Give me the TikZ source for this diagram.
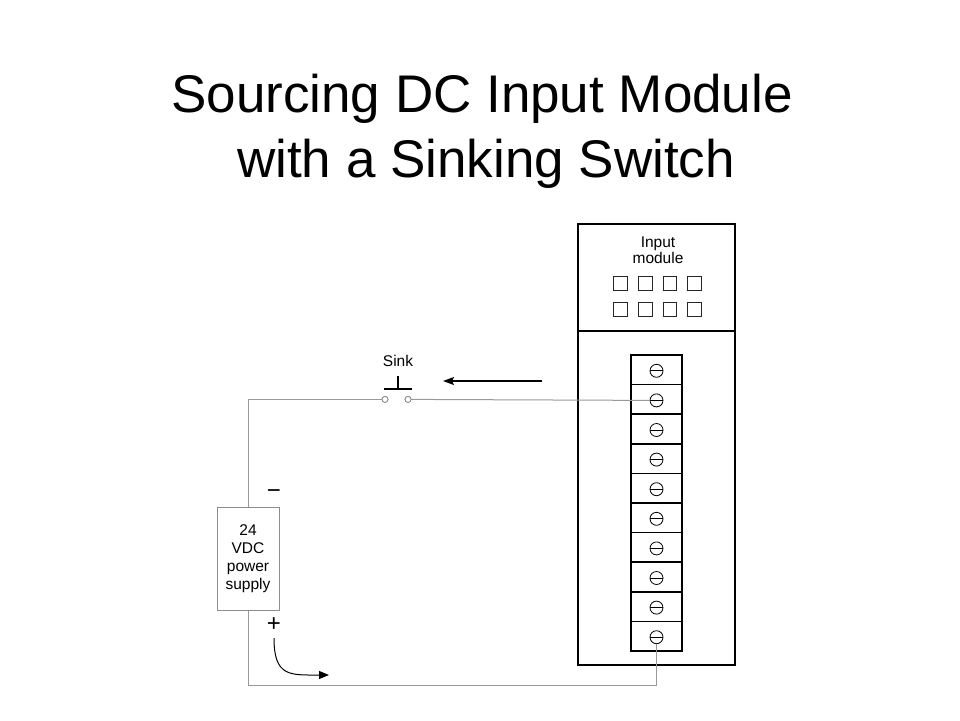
\documentclass[tikz,border=0pt]{standalone}
\usepackage{fontspec}
\setmainfont{Liberation Sans}
\usetikzlibrary{arrows.meta}
\begin{document}
\begin{tikzpicture}[x=1pt,y=-1pt,
  wire/.style={draw=black!40, line width=1pt},
  heavy/.style={draw=black, line width=1.8pt},
  titletext/.style={font=\fontsize{53}{65}\selectfont, inner sep=0pt, anchor=base},
  lbl/.style={font=\fontsize{15.5}{18.2}\selectfont, inner sep=0pt, align=center},
  led/.style={draw=black!85, line width=0.9pt, minimum size=13.5pt, inner sep=0pt, outer sep=0pt},
  term/.style={draw=black, line width=1.5pt, minimum width=51pt, minimum height=29.6pt, inner sep=0pt, outer sep=0pt},
  screw/.style={circle, draw=black, line width=0.8pt, minimum size=13pt, inner sep=0pt, outer sep=0pt},
  contact/.style={circle, draw=black!45, line width=0.8pt, fill=white, minimum size=6pt, inner sep=0pt, outer sep=0pt},
  sign/.style={font=\fontsize{24}{24}\selectfont, inner sep=0pt}]
\useasboundingbox (0,0) rectangle (960,720);

% title
\node[titletext] (title1) at (482,112) {Sourcing DC Input Module};
\node[titletext] (title2) at (486,177) {with a Sinking Switch};

% input module
\node[heavy, minimum width=157pt, minimum height=441pt, inner sep=0pt, outer sep=0pt, anchor=north west] (mod) at (578,224) {};
\draw[heavy] (mod.west |- 0,331) -- (mod.east |- 0,331);
\node[lbl, anchor=base] (in1) at (658,247) {Input};
\node[lbl, anchor=base] (in2) at (658,263.5) {module};
\foreach \c [count=\k] in {620.5,645.5,670,694.5}{
  \node[led] (la\k) at (\c,283.5) {};
  \node[led] (lb\k) at (\c,309.5) {};
}

% terminal strip
\foreach \i in {1,...,10}{
  \node[term] (t\i) at (656.5,{355+29.6*(\i-0.5)}) {};
  \node[screw] (s\i) at (656.5,{355+29.6*(\i-0.5)+1}) {};
  \draw[black, line width=0.8pt] (s\i.west) -- (s\i.east);
}

% switch
\node[contact] (swL) at (385,399.4) {};
\node[contact] (swR) at (408,399.4) {};
\coordinate (barL) at (384,389);
\coordinate (barR) at (412,389);
\coordinate (stemB) at (398,389);
\coordinate (stemT) at (398,376);
\draw[black, line width=1.6pt] (barL) -- (barR);
\draw[black, line width=1.4pt] (stemB) -- (stemT);
\node[lbl, anchor=base] (sink) at (398,366) {Sink};

% arrow toward switch
\coordinate (a1) at (542,381);
\coordinate (a2) at (443,381);
\draw[black, line width=1.2pt, -{Stealth[length=11pt,width=8pt,inset=2pt]}] (a1) -- (a2);

% power supply
\node[draw=black!45, line width=1pt, minimum width=62pt, minimum height=103pt, inner sep=0pt, lbl] (ps) at (248,558.5) {24\\VDC\\power\\supply};
\node[sign] (minus) at (274,494) {−};
\node[sign] (plus) at (274,625) {+};

% wires
\coordinate (bl) at (248,685);
\draw[wire] (s2.west) -- (swR.east);
\draw[wire] (swL.west) -| (ps.north);
\draw[wire] (ps.south) -- (bl) -| (s10.south);
\node[contact] at (swL) {};
\node[contact] at (swR) {};

% current arrow
\coordinate (c1) at (274,638);
\coordinate (c2) at (329,675);
\draw[black, line width=1pt, -{Triangle[length=10pt,width=8pt]}] (c1) .. controls (274,677) and (290,675) .. (c2);
\end{tikzpicture}
\end{document}
